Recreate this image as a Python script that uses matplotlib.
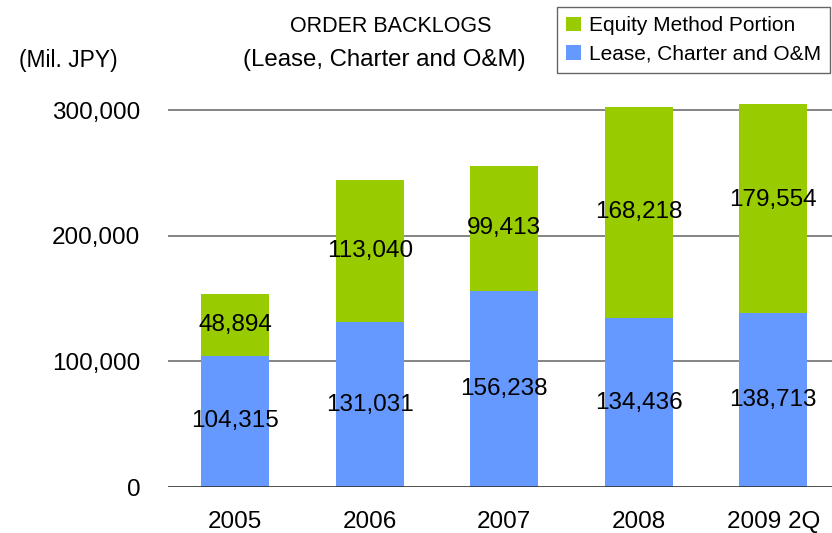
import matplotlib
matplotlib.use("Agg")
import matplotlib.pyplot as plt
import numpy as np

plt.rcParams['font.family'] = ['Liberation Sans', 'DejaVu Sans']

# order backlogs, Mil. JPY
labels = ['2005', '2006', '2007', '2008', '2009 2Q']
lease = [104315, 131031, 156238, 134436, 138713]    # Lease, Charter and O&M
equity = [48894, 113040, 99413, 168218, 179554]     # Equity Method Portion

blue = '#6699FF'
green = '#99CC00'

x = np.arange(len(labels))
width = 0.505

fig = plt.figure(figsize=(8.32, 5.33), dpi=100)
W, H = 832, 533
# axes spans pixel 168..840 horizontally (cut at the right edge), 104..487 vertically
ax = fig.add_axes([168 / W, (H - 487) / H, 672.5 / W, 383 / H])

ax.set_axisbelow(True)
b1 = ax.bar(x, lease, width, color=blue, label='Lease, Charter and O&M', zorder=2)
b2 = ax.bar(x, equity, width, bottom=lease, color=green, label='Equity Method Portion', zorder=2)

ax.set_xlim(-0.5, 4.5)
ax.set_ylim(0, 304800)
ax.set_yticks([0, 100000, 200000, 300000])
ax.set_yticklabels(['0', '100,000', '200,000', '300,000'], fontsize=17.5)
ax.set_xticks(x)
ax.set_xticklabels(labels, fontsize=17.5)
ax.tick_params(axis='x', length=0, pad=17)
ax.tick_params(axis='y', length=0, pad=20)

for y in [100000, 200000, 300000]:
    ax.axhline(y, color='#707070', lw=1.2, zorder=1)
ax.axhline(0, color='#333333', lw=1.2, zorder=3)

for s in ax.spines.values():
    s.set_visible(False)

# value labels centred in each segment
for i in range(len(labels)):
    ax.text(x[i], lease[i] / 2, '{:,}'.format(lease[i]),
            ha='center', va='center', fontsize=17.5, zorder=4)
    ax.text(x[i], lease[i] + equity[i] / 2, '{:,}'.format(equity[i]),
            ha='center', va='center', fontsize=17.5, zorder=4)

fig.text(391 / W, 1 - 27 / H, 'ORDER BACKLOGS', ha='center', va='center', fontsize=15.5)
fig.text(384 / W, 1 - 60 / H, '(Lease, Charter and O&M)', ha='center', va='center', fontsize=17.3)
fig.text(68 / W, 1 - 60 / H, '(Mil. JPY)', ha='center', va='center', fontsize=16.5)

leg = fig.legend(handles=[b2, b1], loc='upper left', bbox_to_anchor=(557 / W, 1 - 7 / H),
                 fontsize=15, frameon=True, fancybox=False, handlelength=0.68,
                 handleheight=0.68, handletextpad=0.4, borderpad=0.45, labelspacing=0.45,
                 borderaxespad=0)
leg.get_frame().set_edgecolor('#404040')
leg.get_frame().set_linewidth(1.0)

fig.savefig('out.png', dpi=100)
